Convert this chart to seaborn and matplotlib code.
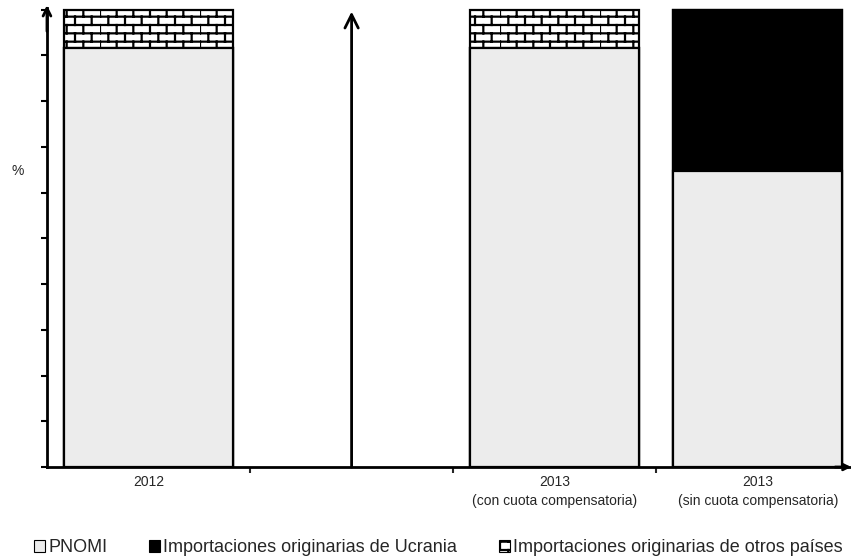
import numpy as np
import pandas as pd
import seaborn as sns
import matplotlib
matplotlib.use("Agg")
import matplotlib.pyplot as plt
import matplotlib.hatch as mhatch
from matplotlib.path import Path
from matplotlib.patches import Patch

# Data (% share of apparent consumption)
categories = ["2012", " ", "2013\n(con cuota compensatoria)", "2013\n(sin cuota compensatoria)"]
pnomi = [91.7, np.nan, 91.7, 64.8]
ucrania = [0.0, np.nan, 0.0, 35.2]
otros = [8.3, np.nan, 8.3, 0.0]
legend_labels = ["PNOMI", "Importaciones originarias de Ucrania",
                 "Importaciones originarias de otros países"]

# brick hatch: hook into matplotlib's hatch path builder, used for pattern "++"
_orig_get_path = mhatch.get_path


def brick_path(pattern, density=6):
    if pattern != "++":
        return _orig_get_path(pattern, density)
    rows, cols = 12, 6
    verts, codes = [], []
    for i in range(rows):
        y0, y1 = i / rows, (i + 1) / rows
        verts += [(0, y0), (1, y0)]
        codes += [Path.MOVETO, Path.LINETO]
        off = (i % 2) * 0.5 / cols
        for j in range(cols):
            x = off + j / cols
            verts += [(x, y0), (x, y1)]
            codes += [Path.MOVETO, Path.LINETO]
    return Path(np.array(verts, float), codes)


mhatch.get_path = brick_path

sns.set_style("white")
plt.rcParams["font.family"] = ["Liberation Sans", "DejaVu Sans"]
plt.rcParams["hatch.linewidth"] = 1.6

df = pd.DataFrame({"cat": categories, "pnomi": pnomi, "ucrania": ucrania, "otros": otros})
df["top_ucr"] = df["pnomi"] + df["ucrania"]
df["top_otros"] = df["top_ucr"] + df["otros"]

fig = plt.figure(figsize=(8.51, 5.58), dpi=100)
ax = fig.add_axes([0.0552, 0.163, 0.945, 0.822])

bar_kw = dict(x="cat", order=categories, width=0.83, edgecolor="black",
              linewidth=1.6, errorbar=None, ax=ax)
sns.barplot(data=df, y="top_otros", color="white", hatch="++", **bar_kw)
sns.barplot(data=df, y="top_ucr", color="black", **bar_kw)
sns.barplot(data=df, y="pnomi", color="#ececec", **bar_kw)

ax.set_xlim(-0.5, 3.46)
ax.set_ylim(0, 100.3)
ax.set_xlabel("")
ax.set_ylabel("%", rotation=0, fontsize=10, va="center")
ax.yaxis.set_label_coords(-0.036, 0.645)

ax.set_yticks(np.arange(0, 101, 10))
ax.set_yticklabels([])
ax.tick_params(axis="y", direction="out", length=4, width=1.5, left=True, colors="black")
ax.set_xticks(range(len(categories)))
ax.set_xticklabels(categories, fontsize=10, linespacing=1.45)
ax.set_xticks([0.5, 1.5, 2.5], minor=True)
ax.tick_params(axis="x", which="major", length=0, pad=6)
ax.tick_params(axis="x", which="minor", direction="out", length=4, width=1.5, bottom=True)

for side in ["top", "right"]:
    ax.spines[side].set_visible(False)
for side in ["left", "bottom"]:
    ax.spines[side].set_linewidth(2)
    ax.spines[side].set_color("black")

# axis arrowheads
arrow_kw = dict(lw=2, color="black", shrinkA=0, shrinkB=0)
ax.annotate("", xy=(0, 1.007), xytext=(0, 0.95), xycoords="axes fraction",
            arrowprops=dict(arrowstyle="->", mutation_scale=14, **arrow_kw),
            annotation_clip=False)
ax.annotate("", xy=(1.0, 0), xytext=(0.98, 0), xycoords="axes fraction",
            arrowprops=dict(arrowstyle="->", mutation_scale=10, **arrow_kw),
            annotation_clip=False)
# arrow in the empty category
ax.annotate("", xy=(1, 99.6), xytext=(1, 0), xycoords="data",
            arrowprops=dict(arrowstyle="->", mutation_scale=24, **arrow_kw))

handles = [Patch(facecolor="#ececec", edgecolor="black", linewidth=0.8),
           Patch(facecolor="black", edgecolor="black", linewidth=0.8),
           Patch(facecolor="white", edgecolor="black", linewidth=0.8, hatch="++")]
fig.legend(handles, legend_labels, loc="lower center", bbox_to_anchor=(0.515, -0.026),
           ncol=3, frameon=False, fontsize=13, handlelength=0.6, handleheight=0.6,
           handletextpad=0.2, columnspacing=2.3)

fig.savefig("out.png", dpi=100)
